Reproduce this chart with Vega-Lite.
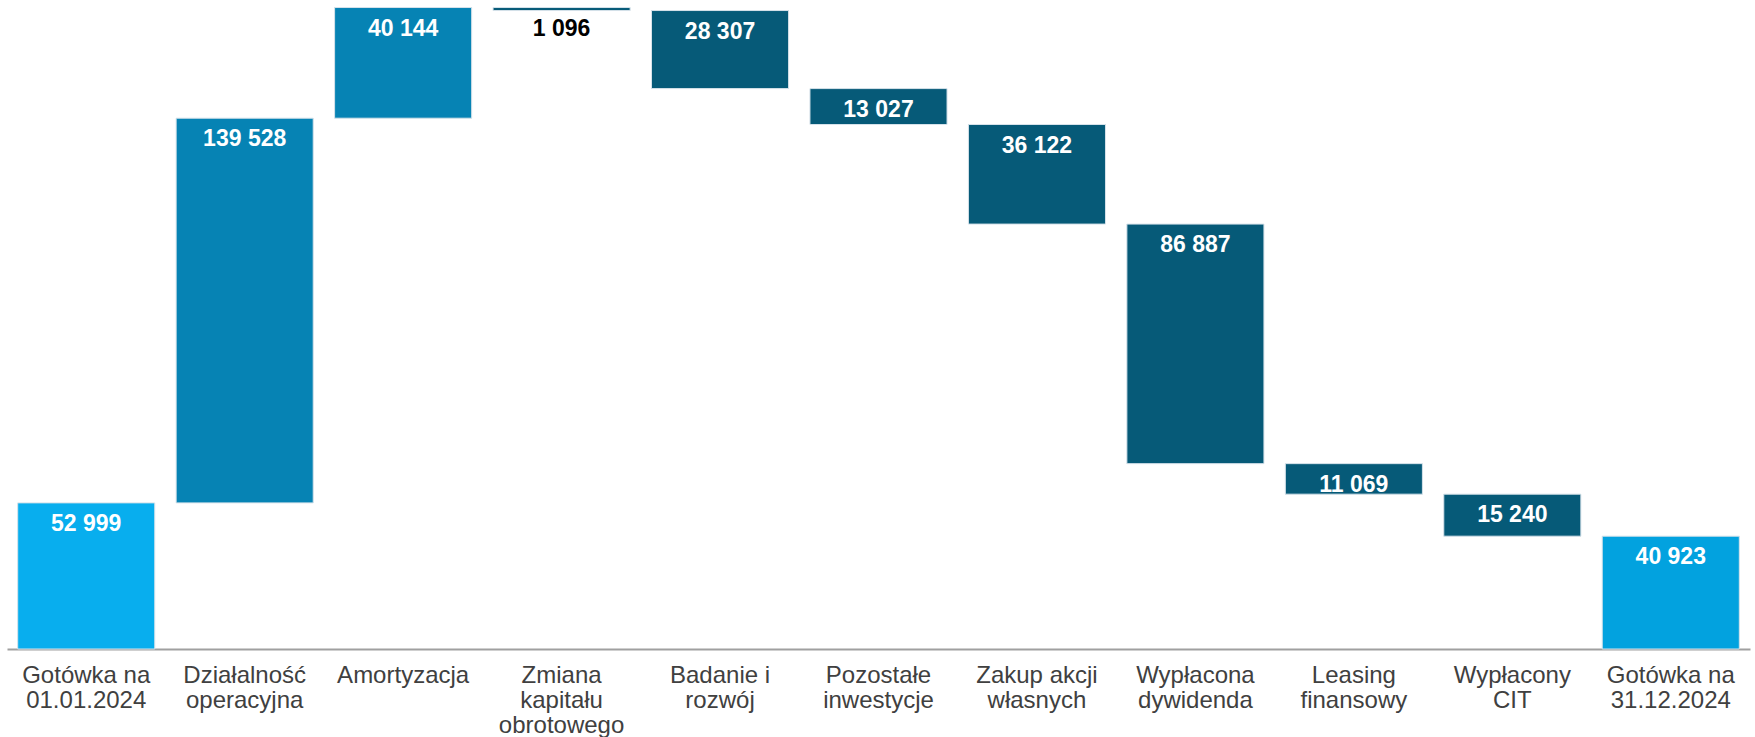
{
  "$schema": "https://vega.github.io/schema/vega-lite/v6.json",
  "width": 1743,
  "height": 649,
  "autosize": {"type": "none"},
  "padding": {"left": 7, "top": 0, "right": 5, "bottom": 88},
  "background": "white",
  "config": {
    "view": {"stroke": null},
    "locale": {"number": {"decimal": ",", "thousands": " ", "grouping": [3], "currency": ["", ""]}},
    "font": "Liberation Sans"
  },
  "data": {
    "values": [
      {"step": "Gotówka na|01.01.2024", "kind": "total", "top": 52999, "bottom": 0, "amount": 52999},
      {"step": "Działalność|operacyjna", "kind": "increase", "top": 192527, "bottom": 52999, "amount": 139528},
      {"step": "Amortyzacja", "kind": "increase", "top": 232671, "bottom": 192527, "amount": 40144},
      {"step": "Zmiana|kapitału|obrotowego", "kind": "decrease", "top": 232671, "bottom": 231575, "amount": 1096},
      {"step": "Badanie i|rozwój", "kind": "decrease", "top": 231575, "bottom": 203268, "amount": 28307},
      {"step": "Pozostałe|inwestycje", "kind": "decrease", "top": 203268, "bottom": 190241, "amount": 13027},
      {"step": "Zakup akcji|własnych", "kind": "decrease", "top": 190241, "bottom": 154119, "amount": 36122},
      {"step": "Wypłacona|dywidenda", "kind": "decrease", "top": 154119, "bottom": 67232, "amount": 86887},
      {"step": "Leasing|finansowy", "kind": "decrease", "top": 67232, "bottom": 56163, "amount": 11069},
      {"step": "Wypłacony|CIT", "kind": "decrease", "top": 56163, "bottom": 40923, "amount": 15240},
      {"step": "Gotówka na|31.12.2024", "kind": "end", "top": 40923, "bottom": 0, "amount": 40923}
    ]
  },
  "encoding": {
    "x": {
      "field": "step",
      "type": "nominal",
      "sort": null,
      "scale": {"paddingInner": 0.135, "paddingOuter": 0.0675},
      "axis": {
        "title": null,
        "orient": "bottom",
        "ticks": false,
        "tickSize": 0,
        "labelAngle": 0,
        "labelExpr": "split(datum.value, '|')",
        "labelFont": "Liberation Sans",
        "labelFontSize": 24,
        "labelLineHeight": 25,
        "labelColor": "#404040",
        "labelPadding": 14,
        "labelBaseline": "top",
        "labelAlign": "center",
        "domain": true,
        "domainColor": "#a0a0a0",
        "domainWidth": 2,
        "grid": false
      }
    }
  },
  "layer": [
    {
      "mark": {"type": "bar", "stroke": "#d6e2ea", "strokeWidth": 1},
      "encoding": {
        "y": {
          "field": "top",
          "type": "quantitative",
          "scale": {"domain": [0, 235400], "nice": false, "zero": true},
          "axis": null
        },
        "y2": {"field": "bottom"},
        "color": {
          "field": "kind",
          "type": "nominal",
          "scale": {
            "domain": ["total", "increase", "decrease", "end"],
            "range": ["#08aeee", "#0683b4", "#065a78", "#02a2df"]
          },
          "legend": null
        }
      }
    },
    {
      "mark": {
        "type": "text",
        "font": "Liberation Sans",
        "fontWeight": "bold",
        "fontSize": 23,
        "baseline": "alphabetic",
        "align": "center",
        "dy": 28
      },
      "encoding": {
        "y": {"field": "top", "type": "quantitative"},
        "text": {"field": "amount", "type": "quantitative", "format": ",d"},
        "color": {
          "condition": {"test": "datum.amount < 5000", "value": "#000000"},
          "value": "#ffffff"
        }
      }
    }
  ]
}
